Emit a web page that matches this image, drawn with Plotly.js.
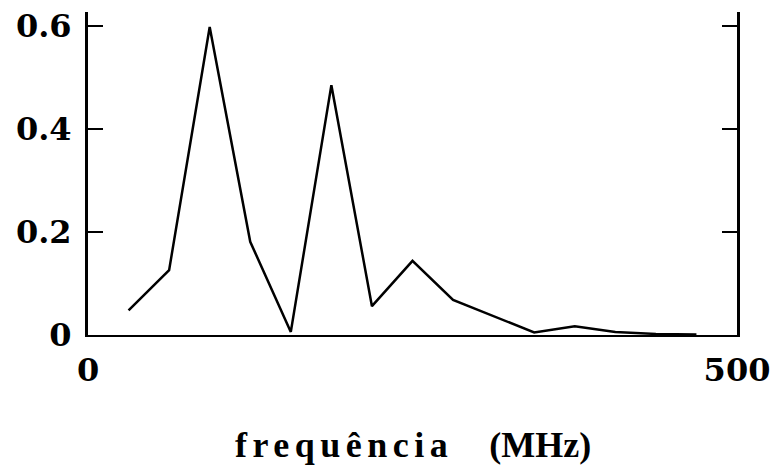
<!DOCTYPE html>
<html>
<head>
<meta charset="utf-8">
<script src="https://cdn.plot.ly/plotly-3.0.1.min.js"></script>
<style>
  html, body { margin: 0; padding: 0; background: #fff; }
  #chart { width: 775px; height: 466px; }
</style>
</head>
<body>
<div id="chart"></div>
<script>
// Spectrum samples, spaced 31.25 MHz apart
const freqMHz = [31.25, 62.5, 93.75, 125, 156.25, 187.5, 218.75, 250, 281.25, 312.5, 343.75, 375, 406.25, 437.5, 468.75];
const amplitude = [0.048, 0.126, 0.598, 0.181, 0.006, 0.485, 0.056, 0.144, 0.068, 0.036, 0.005, 0.017, 0.006, 0.002, 0.001];

const yTickVals = [0, 0.2, 0.4, 0.6];
const yTickText = ['0', '0.2', '0.4', '0.6'];
const xTickVals = [0, 500];
const xTickText = ['0', '500'];

const tickFont = { family: 'DejaVu Serif', size: 32, color: '#000', weight: 'bold' };

const trace = {
  x: freqMHz,
  y: amplitude,
  type: 'scatter',
  mode: 'lines',
  line: { color: '#000', width: 2.5 },
  hoverinfo: 'skip'
};

const layout = {
  width: 775,
  height: 466,
  margin: { l: 88, r: 38, t: 12, b: 131 },
  paper_bgcolor: '#fff',
  plot_bgcolor: '#fff',
  showlegend: false,
  xaxis: {
    range: [0, 500],
    tickvals: xTickVals,
    ticktext: xTickText,
    ticks: '',
    showgrid: false,
    zeroline: false,
    showline: true,
    linecolor: '#000',
    linewidth: 2,
    tickfont: tickFont,
    ticklabelstandoff: 6,
    automargin: false
  },
  yaxis: {
    range: [0, 0.627],
    tickvals: yTickVals,
    ticktext: yTickText,
    ticks: 'inside',
    ticklen: 15,
    tickwidth: 2,
    tickcolor: '#000',
    showgrid: false,
    zeroline: false,
    showline: true,
    mirror: 'ticks',
    linecolor: '#000',
    linewidth: 3,
    tickfont: tickFont,
    ticklabelstandoff: 7,
    automargin: false
  },
  annotations: [{
    xref: 'paper', yref: 'paper',
    x: 0.5, y: -0.272,
    xanchor: 'center', yanchor: 'top',
    showarrow: false,
    text: '<span style="letter-spacing:5.5px">frequência</span>\u00a0\u00a0\u00a0\u00a0(MHz)',
    font: { family: 'Liberation Serif', size: 36, color: '#000', weight: 'bold' }
  }]
};

Plotly.newPlot('chart', [trace], layout, { displayModeBar: false, staticPlot: true });
</script>
</body>
</html>
